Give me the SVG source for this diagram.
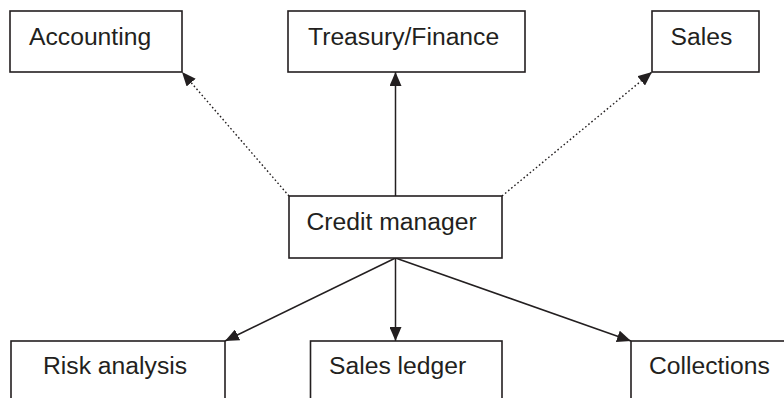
<svg xmlns="http://www.w3.org/2000/svg" width="784" height="398" viewBox="0 0 784 398">
  <style>
    .box { fill: #ffffff; stroke: #231f20; stroke-width: 1.6; }
    .label { font-family: "Liberation Sans", Arial, sans-serif; font-size: 24.7px; fill: #231f20; }
    .link { fill: none; stroke: #231f20; stroke-width: 1.5; marker-end: url(#arrow); }
    .dotted { stroke-dasharray: 1.6 2.4; stroke-width: 1.4; }
  </style>
  <defs>
    <marker id="arrow" viewBox="0 0 14 12" markerWidth="14" markerHeight="12" refX="14" refY="6" orient="auto" markerUnits="userSpaceOnUse">
      <path d="M0,0 L14,6 L0,12 z" fill="#231f20"/>
    </marker>
  </defs>
  <rect width="784" height="398" fill="#ffffff"/>

  <!-- connectors -->
  <g id="connectors">
    <line class="link" x1="395.5" y1="196" x2="395.5" y2="72"/>
    <line class="link dotted" x1="289" y1="196" x2="182" y2="72"/>
    <line class="link dotted" x1="502" y1="196" x2="652" y2="72"/>
    <line class="link" x1="395.5" y1="258" x2="225" y2="341"/>
    <line class="link" x1="395.5" y1="258" x2="395.5" y2="341"/>
    <line class="link" x1="395.5" y1="258" x2="631" y2="341"/>
  </g>

  <!-- top row -->
  <g id="accounting">
    <rect class="box" x="10" y="11" width="172" height="61"/>
    <text class="label" x="29" y="45">Accounting</text>
  </g>
  <g id="treasury-finance">
    <rect class="box" x="288" y="11" width="237" height="61"/>
    <text class="label" x="308" y="45">Treasury/Finance</text>
  </g>
  <g id="sales">
    <rect class="box" x="652" y="11" width="107" height="61"/>
    <text class="label" x="670.5" y="45">Sales</text>
  </g>

  <!-- centre -->
  <g id="credit-manager">
    <rect class="box" x="289" y="196" width="213" height="62"/>
    <text class="label" x="306.5" y="230">Credit manager</text>
  </g>

  <!-- bottom row (boxes run off the lower edge) -->
  <g id="risk-analysis">
    <rect class="box" x="11" y="341" width="214" height="80"/>
    <text class="label" x="43" y="374">Risk analysis</text>
  </g>
  <g id="sales-ledger">
    <rect class="box" x="310.5" y="341" width="191.5" height="80"/>
    <text class="label" x="329" y="374">Sales ledger</text>
  </g>
  <g id="collections">
    <rect class="box" x="631" y="341" width="170" height="80"/>
    <text class="label" x="649" y="374">Collections</text>
  </g>
</svg>
